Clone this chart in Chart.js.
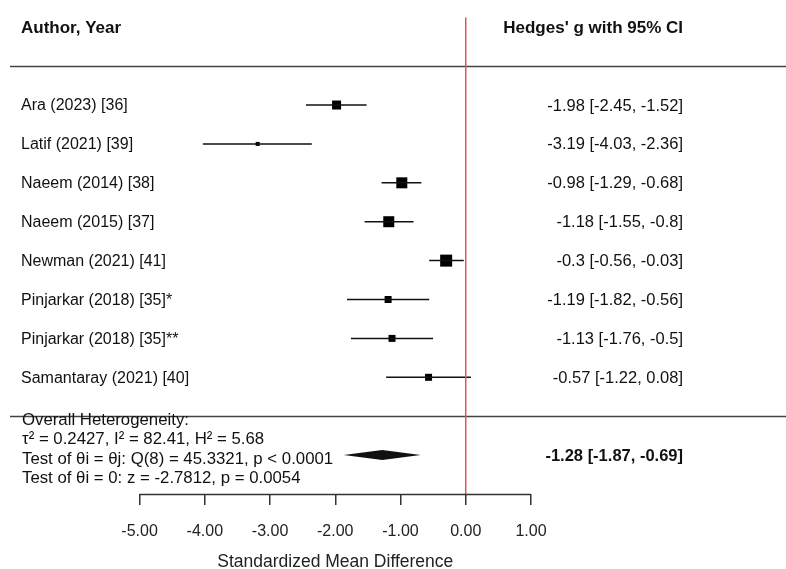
<!DOCTYPE html>
<html>
<head>
<meta charset="utf-8">
<script src="https://cdn.jsdelivr.net/npm/chart.js@4.4.1/dist/chart.umd.min.js"></script>
<style>
  body { margin: 0; background: #fff; }
</style>
</head>
<body>
<canvas id="forest" width="786" height="569"></canvas>
<script>
// Studies and their effect sizes (Hedges' g, 95% CI)
const STUDIES = [
    'Ara (2023) [36]', 'Latif (2021) [39]', 'Naeem (2014) [38]', 'Naeem (2015) [37]',
    'Newman (2021) [41]', 'Pinjarkar (2018) [35]*', 'Pinjarkar (2018) [35]**', 'Samantaray (2021) [40]'
];
const EST   = [-1.98, -3.19, -0.98, -1.18, -0.30, -1.19, -1.13, -0.57];
const LOWER = [-2.45, -4.03, -1.29, -1.55, -0.56, -1.82, -1.76, -1.22];
const UPPER = [-1.52, -2.36, -0.68, -0.80, -0.03, -0.56, -0.50,  0.08];
const CI_TEXT = [
    '-1.98 [-2.45, -1.52]', '-3.19 [-4.03, -2.36]', '-0.98 [-1.29, -0.68]', '-1.18 [-1.55, -0.8]',
    '-0.3 [-0.56, -0.03]', '-1.19 [-1.82, -0.56]', '-1.13 [-1.76, -0.5]', '-0.57 [-1.22, 0.08]'
];

// Pooled estimate
const OVERALL_EST = -1.28;
const OVERALL_LO  = -1.87;
const OVERALL_HI  = -0.69;
const OVERALL_TEXT = '-1.28 [-1.87, -0.69]';

const HETERO_LINES = [
    'Overall Heterogeneity:',
    'τ² = 0.2427, I² = 82.41, H² = 5.68',
    'Test of θi = θj: Q(8) = 45.3321, p < 0.0001',
    'Test of θi = 0: z = -2.7812, p = 0.0054'
];

const X_TICKS = [-5, -4, -3, -2, -1, 0, 1];
const X_TITLE = 'Standardized Mean Difference';

// marker side in px (reflects study weight)
const BOX_SIDE = [9, 4, 11, 11, 12, 7, 7, 7];

const FONT = 'Liberation Sans, Arial, Helvetica, sans-serif';
const RED = '#e25555';

const ciSets = STUDIES.map((s, i) => ({
    label: s,
    data: [{ x: LOWER[i], y: i }, { x: UPPER[i], y: i }],
    showLine: true,
    borderColor: '#111',
    borderWidth: 1.5,
    pointRadius: 0
}));

const forestText = {
    id: 'forestText',
    beforeDatasetsDraw(chart) {
        const { ctx, scales: { y } } = chart;
        ctx.save();
        ctx.strokeStyle = '#444';
        ctx.lineWidth = 1.5;
        [-1, 8].forEach(v => {
            const py = Math.round(y.getPixelForValue(v)) + 0.5;
            ctx.beginPath();
            ctx.moveTo(10, py);
            ctx.lineTo(786, py);
            ctx.stroke();
        });
        ctx.restore();
    },
    afterDatasetsDraw(chart) {
        const { ctx, scales: { x, y } } = chart;
        ctx.save();
        ctx.fillStyle = '#111';
        ctx.textBaseline = 'middle';

        // headers
        ctx.font = 'bold 17px ' + FONT;
        ctx.textAlign = 'left';
        ctx.fillText('Author, Year', 21, y.getPixelForValue(-2) + 1);
        ctx.textAlign = 'right';
        ctx.fillText("Hedges' g with 95% CI", 683, y.getPixelForValue(-2) + 1);

        // rows
        STUDIES.forEach((s, i) => {
            const py = y.getPixelForValue(i) + 1;
            ctx.font = '16px ' + FONT;
            ctx.textAlign = 'left';
            ctx.fillText(s, 21, py);
            ctx.font = '16.5px ' + FONT;
            ctx.textAlign = 'right';
            ctx.fillText(CI_TEXT[i], 683, py);
        });

        // heterogeneity block
        ctx.font = '16.8px ' + FONT;
        ctx.textAlign = 'left';
        const base = y.getPixelForValue(8);
        HETERO_LINES.forEach((t, i) => ctx.fillText(t, 22, base + 4 + i * 19.5));

        // pooled diamond
        const dy = y.getPixelForValue(9.0);
        ctx.beginPath();
        ctx.moveTo(x.getPixelForValue(OVERALL_LO), dy);
        ctx.lineTo(x.getPixelForValue(OVERALL_EST), dy - 5);
        ctx.lineTo(x.getPixelForValue(OVERALL_HI), dy);
        ctx.lineTo(x.getPixelForValue(OVERALL_EST), dy + 5);
        ctx.closePath();
        ctx.fill();

        ctx.font = 'bold 16.5px ' + FONT;
        ctx.textAlign = 'right';
        ctx.fillText(OVERALL_TEXT, 683, dy + 1);
        ctx.restore();
    },
    afterDraw(chart) {
        const { ctx, chartArea, scales: { x } } = chart;
        const x0 = x.getPixelForValue(X_TICKS[0]);
        const x1 = x.getPixelForValue(X_TICKS[X_TICKS.length - 1]);
        ctx.save();
        ctx.strokeStyle = '#333';
        ctx.lineWidth = 1.5;
        const py = Math.round(chartArea.bottom) + 0.5;
        ctx.beginPath();
        ctx.moveTo(x0, py);
        ctx.lineTo(x1, py);
        ctx.stroke();

        // axis title, centred under the tick range
        ctx.fillStyle = '#222';
        ctx.font = '17.5px ' + FONT;
        ctx.textAlign = 'center';
        ctx.textBaseline = 'middle';
        ctx.fillText(X_TITLE, (x0 + x1) / 2, chartArea.bottom + 68);
        ctx.restore();
    }
};

window.onload = () => {
    new Chart(document.getElementById('forest'), {
        type: 'scatter',
        data: {
            datasets: [
                {
                    label: 'no effect',
                    data: [{ x: 0, y: -2.25 }, { x: 0, y: 10 }],
                    showLine: true,
                    borderColor: RED,
                    borderWidth: 1.5,
                    pointRadius: 0
                },
                ...ciSets,
                {
                    label: 'estimate',
                    data: EST.map((v, i) => ({ x: v, y: i })),
                    pointStyle: 'rect',
                    pointRadius: BOX_SIDE.map(s => s * Math.SQRT1_2),
                    backgroundColor: '#000',
                    borderWidth: 0
                }
            ]
        },
        options: {
            responsive: false,
            animation: false,
            layout: { autoPadding: false, padding: { top: 0, left: 0, right: 0, bottom: 10 } },
            plugins: { legend: { display: false }, tooltip: { enabled: false } },
            scales: {
                x: {
                    type: 'linear',
                    min: -7.14,
                    max: 4.91,
                    afterBuildTicks: s => { s.ticks = X_TICKS.map(v => ({ value: v })); },
                    afterFit: s => { s.paddingLeft = 0; s.paddingRight = 0; },
                    border: { display: false },
                    grid: { drawOnChartArea: false, tickLength: 11, color: '#333', lineWidth: 1.5 },
                    ticks: {
                        color: '#222',
                        padding: 19,
                        font: { family: FONT, size: 16, lineHeight: 1 },
                        callback: v => v.toFixed(2)
                    }
                },
                y: {
                    type: 'linear',
                    display: false,
                    reverse: true,
                    min: -2.7,
                    max: 10
                }
            }
        },
        plugins: [forestText]
    });
};
</script>
</body>
</html>
